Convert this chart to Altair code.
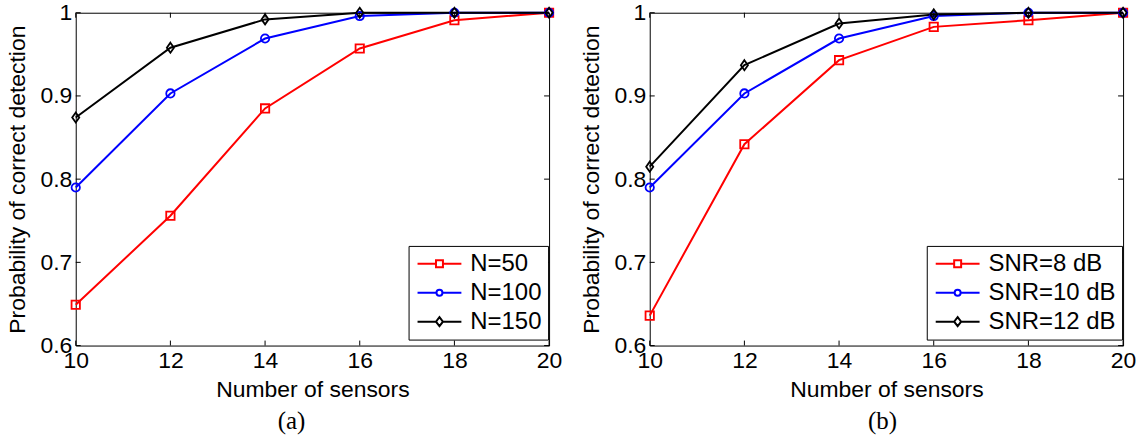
import altair as alt
import pandas as pd

sensors = [10, 12, 14, 16, 18, 20]

# Panel (a)
a_names = ["N=50", "N=100", "N=150"]
a_n50 = [0.649, 0.756, 0.885, 0.957, 0.991, 1.0]
a_n100 = [0.790, 0.903, 0.969, 0.996, 1.0, 1.0]
a_n150 = [0.874, 0.958, 0.992, 1.0, 1.0, 1.0]

# Panel (b)
b_names = ["SNR=8 dB", "SNR=10 dB", "SNR=12 dB"]
b_snr8 = [0.636, 0.842, 0.943, 0.983, 0.991, 1.0]
b_snr10 = [0.790, 0.903, 0.969, 0.996, 1.0, 1.0]
b_snr12 = [0.815, 0.937, 0.987, 0.998, 1.0, 1.0]

x_ticks = [10, 12, 14, 16, 18, 20]
y_ticks = [0.6, 0.7, 0.8, 0.9, 1.0]

colors = ["#ff0000", "#0000ff", "#000000"]
shapes = ["square", "circle", "M0,-1.2L0.85,0L0,1.2L-0.85,0Z"]
legend_paths = [
    "M-2.2,0H-0.35M0.35,0H2.2M-0.35,-0.35H0.35V0.35H-0.35Z",
    "M-2.2,0H-0.3M0.3,0H2.2M0.3,0A0.3,0.3,0,1,1,-0.3,0A0.3,0.3,0,1,1,0.3,0Z",
    "M-2.2,0H-0.35M0.35,0H2.2M0,-0.45L0.35,0L0,0.45L-0.35,0Z",
]

W, H = 475, 334
FONT = "Liberation Sans"
FS = 23


def panel(names, series, label, legend_x, title_dx):
    rows = []
    for name, vals in zip(names, series):
        for xv, yv in zip(sensors, vals):
            rows.append({"x": xv, "y": yv, "series": name})
    df = pd.DataFrame(rows)

    xs = alt.Scale(domain=[10, 20], nice=False, zero=False)
    ys = alt.Scale(domain=[0.6, 1.0], nice=False, zero=False)
    cs = alt.Scale(domain=names, range=colors)

    X = alt.X("x:Q", scale=xs, title="Number of sensors",
              axis=alt.Axis(values=x_ticks, format="d"))
    Y = alt.Y("y:Q", scale=ys, title="Probability of correct detection",
              axis=alt.Axis(values=y_ticks, format=".1~f"))

    layers = []
    for name, c in zip(names, colors):
        layers.append(
            alt.Chart(df).transform_filter(alt.datum.series == name)
            .mark_line(strokeWidth=2, clip=False, color=c)
            .encode(x=X, y=Y)
        )
    for name, c, s in zip(names, colors, shapes):
        layers.append(
            alt.Chart(df).transform_filter(alt.datum.series == name)
            .mark_point(shape=s, size=70, filled=False, strokeWidth=1.8, color=c,
                        opacity=1, clip=False)
            .encode(x=X, y=Y)
        )

    leg = alt.Legend(
        orient="none", legendX=legend_x, legendY=234, title=None,
        strokeColor="black", fillColor="white", padding=6,
        labelFont=FONT, labelFontSize=24, labelColor="black",
        symbolSize=400, symbolStrokeWidth=2, symbolOffset=13, symbolOpacity=1,
        labelOffset=19, rowPadding=5,
    )
    legend_layer = alt.Chart(df).transform_filter("false").mark_point(
        filled=False, strokeWidth=2, opacity=1
    ).encode(
        shape=alt.Shape("series:N", scale=alt.Scale(domain=names, range=legend_paths), legend=leg),
        color=alt.Color("series:N", scale=cs, legend=leg),
    )

    xt = pd.DataFrame({"x": x_ticks})
    yt = pd.DataFrame({"y": y_ticks})
    tick_bottom = alt.Chart(xt).mark_rule(color="black", strokeWidth=1).encode(
        x=X, y=alt.value(H), y2=alt.value(H - 5))
    tick_top = alt.Chart(xt).mark_rule(color="black", strokeWidth=1).encode(
        x=X, y=alt.value(0), y2=alt.value(5))
    tick_left = alt.Chart(yt).mark_rule(color="black", strokeWidth=1).encode(
        y=Y, x=alt.value(0), x2=alt.value(5))
    tick_right = alt.Chart(yt).mark_rule(color="black", strokeWidth=1).encode(
        y=Y, x=alt.value(W), x2=alt.value(W - 5))

    return alt.layer(
        *layers, tick_bottom, tick_top, tick_left, tick_right, legend_layer
    ).properties(
        width=W, height=H,
        title=alt.TitleParams(
            text=label, orient="bottom", font="Liberation Serif", fontSize=25,
            fontWeight="normal", color="black", anchor="middle", dx=title_dx, offset=8,
        ),
    )


left = panel(a_names, [a_n50, a_n100, a_n150], "(a)", 334, -21)
right = panel(b_names, [b_snr8, b_snr10, b_snr12], "(b)", 278, -4)

chart = alt.hconcat(left, right, spacing=17).resolve_scale(
    color="independent", shape="independent"
).resolve_legend(
    color="independent", shape="independent"
).properties(
    padding={"left": 6, "top": 0, "right": 5, "bottom": 5},
    background="white",
).configure_view(
    stroke="black", strokeWidth=1
).configure_axis(
    ticks=False, domain=False, grid=False, labelFlush=False,
    labelFont=FONT, labelFontSize=FS, labelColor="black", labelPadding=5,
    titleFont=FONT, titleFontSize=FS, titleFontWeight="normal", titleColor="black",
    titlePadding=10,
).configure_axisY(
    labelPadding=4,
).configure_axisX(
    labelPadding=4, titlePadding=6,
)

chart.save("out.html", embed_options={"renderer": "svg", "actions": False})
